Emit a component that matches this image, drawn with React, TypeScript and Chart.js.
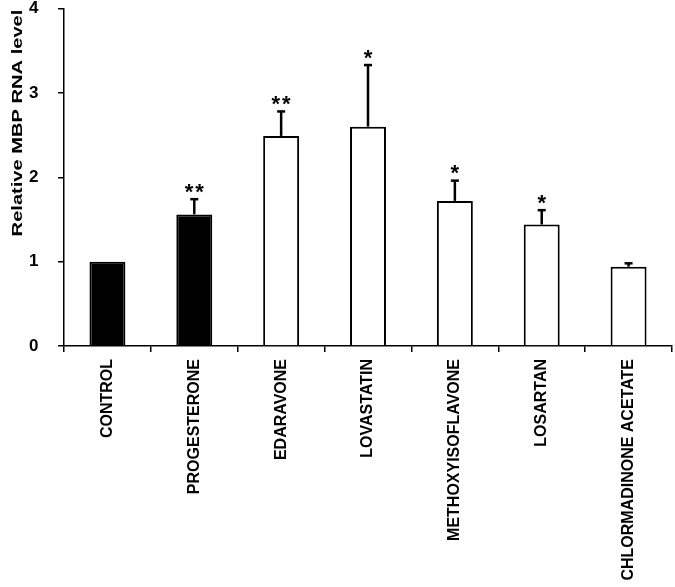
import React, { useEffect, useRef } from "react";
import { Chart, registerables } from "chart.js";

Chart.register(...registerables);

const categories = [
  "CONTROL",
  "PROGESTERONE",
  "EDARAVONE",
  "LOVASTATIN",
  "METHOXYISOFLAVONE",
  "LOSARTAN",
  "CHLORMADINONE ACETATE",
];
const values = [1.0, 1.56, 2.49, 2.6, 1.72, 1.44, 0.94];
const errors = [0, 0.18, 0.29, 0.73, 0.24, 0.17, 0.04];
const stars = ["", "**", "**", "*", "*", "*", ""];
const filled = [true, true, false, false, false, false, false];
const yMin = 0;
const yMax = 4;
const yStep = 1;
const yTitle = "Relative MBP RNA level";

const FONT = "'Liberation Sans', Arial, sans-serif";

const overlayPlugin = {
  id: "overlay",
  afterDatasetsDraw(chart: any) {
    const ctx = chart.ctx;
    const meta = chart.getDatasetMeta(0);
    const y = chart.scales.y;
    ctx.save();
    ctx.strokeStyle = "#000";
    ctx.fillStyle = "#000";
    meta.data.forEach((bar: any, i: number) => {
      const x = bar.x;
      const top = y.getPixelForValue(values[i]);
      const errTop = y.getPixelForValue(values[i] + errors[i]);
      if (errors[i] > 0) {
        ctx.lineWidth = 2.5;
        ctx.beginPath();
        ctx.moveTo(x, top);
        ctx.lineTo(x, errTop);
        ctx.stroke();
        ctx.beginPath();
        ctx.moveTo(x - 4, errTop);
        ctx.lineTo(x + 4, errTop);
        ctx.stroke();
      }
      const s = stars[i];
      if (s) {
        ctx.font = `bold 22px ${FONT}`;
        ctx.textAlign = "center";
        ctx.textBaseline = "alphabetic";
        const cy = errTop - 13 + 12.5;
        const n = s.length;
        const gap = 10.5;
        for (let k = 0; k < n; k++) {
          const cx = x + (k - (n - 1) / 2) * gap;
          ctx.fillText("*", cx, cy);
        }
      }
    });
    // y axis title
    ctx.save();
    ctx.translate(18, 123);
    ctx.rotate(-Math.PI / 2);
    ctx.scale(1.34, 1);
    ctx.font = `bold 15px ${FONT}`;
    ctx.textAlign = "center";
    ctx.textBaseline = "middle";
    ctx.fillText(yTitle, 0, 0);
    ctx.restore();
    ctx.restore();
  },
};

export default function App() {
  const ref = useRef<HTMLCanvasElement | null>(null);
  useEffect(() => {
    if (!ref.current) return;
    const chart = new Chart(ref.current, {
      type: "bar",
      data: {
        labels: categories,
        datasets: [
          {
            data: values,
            backgroundColor: filled.map((f) => (f ? "#000" : "#fff")),
            borderColor: "#000",
            borderWidth: 2,
            barPercentage: 0.414,
            categoryPercentage: 1,
          },
        ],
      },
      options: {
        animation: false,
        responsive: true,
        maintainAspectRatio: false,
        layout: { padding: { top: 8, right: 3, left: 29, bottom: 0 } },
        plugins: {
          legend: { display: false },
          tooltip: { enabled: false },
          title: { display: false },
        },
        scales: {
          x: {
            offset: true,
            border: { color: "#000", width: 1.5 },
            grid: {
              offset: true,
              display: true,
              drawOnChartArea: false,
              drawTicks: true,
              tickLength: 6,
              color: "#000",
              lineWidth: 1.5,
            },
            ticks: {
              color: "#000",
              font: { family: FONT, size: 16, weight: "bold" },
              minRotation: 90,
              maxRotation: 90,
              autoSkip: false,
              padding: 7,
            },
            afterFit(scale: any) {
              scale.height = 241;
            },
          },
          y: {
            min: yMin,
            max: yMax,
            border: { color: "#000", width: 1.5 },
            grid: {
              display: true,
              drawOnChartArea: false,
              drawTicks: true,
              tickLength: 6,
              color: "#000",
              lineWidth: 1.5,
            },
            ticks: {
              stepSize: yStep,
              color: "#000",
              padding: 0,
              crossAlign: "far",
              font: { family: FONT, size: 17, weight: "bold", lineHeight: 1 },
            },
            afterFit(scale: any) {
              scale.width = 35;
            },
          },
        },
      },
      plugins: [overlayPlugin],
    } as any);
    return () => chart.destroy();
  }, []);
  return (
    <div
      style={{
        position: "fixed",
        left: 0,
        top: 0,
        width: 675,
        height: 587,
        background: "#fff",
      }}
    >
      <canvas ref={ref} />
    </div>
  );
}
